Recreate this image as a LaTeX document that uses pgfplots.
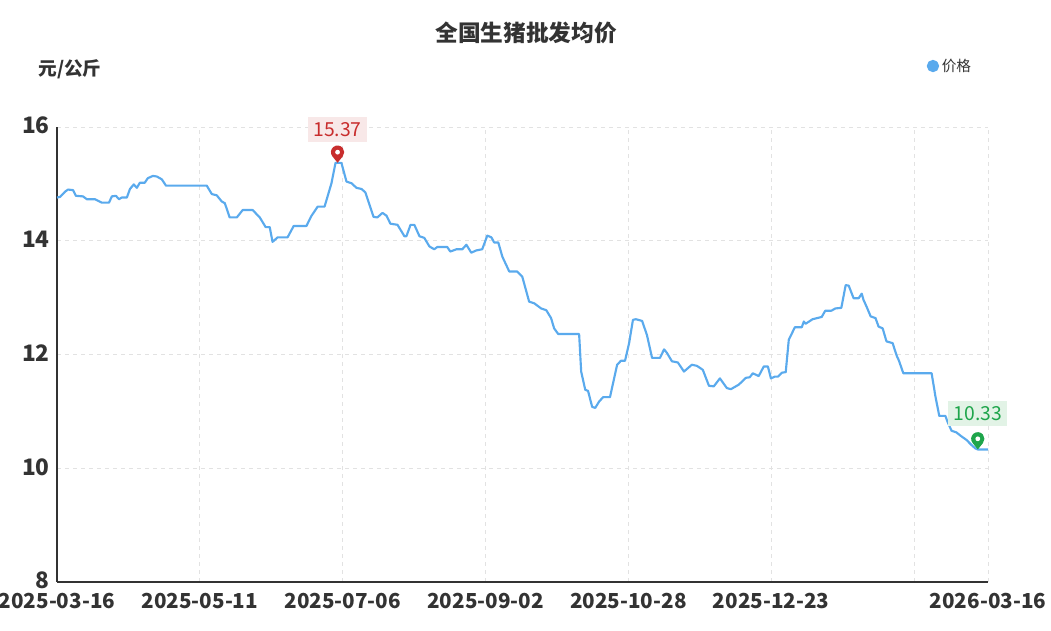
\documentclass[border=0pt]{standalone}
\usepackage{fontspec}
\setmainfont{Noto Sans CJK SC}
\usepackage{pgfplots}
\pgfplotsset{compat=1.18}
\definecolor{lineblue}{RGB}{90,170,237}
\definecolor{txt}{RGB}{51,51,51}
\definecolor{gridc}{RGB}{226,226,226}
\definecolor{pinred}{RGB}{200,45,45}
\definecolor{pinredbg}{RGB}{248,232,232}
\definecolor{pingreen}{RGB}{30,165,75}
\definecolor{pingreenbg}{RGB}{226,243,230}

\pgfdeclareplotmark{pin}{%
  \pgfpathmoveto{\pgfqpoint{0pt}{0pt}}%
  \pgfpathlineto{\pgfpointadd{\pgfqpoint{0pt}{8pt}}{\pgfpointpolar{220}{5pt}}}%
  \pgfpatharc{220}{-40}{5pt}%
  \pgfpathclose
  \pgfusepathqfill
  \pgfsetfillcolor{white}%
  \pgfpathcircle{\pgfqpoint{0pt}{8pt}}{1.8pt}%
  \pgfusepathqfill
}

\begin{document}
\begin{tikzpicture}
\useasboundingbox (-42.75pt,-36.75pt) rectangle (745.5pt,436.5pt);
\begin{axis}[
  at={(0,0)}, anchor=south west,
  scale only axis, width=698.25pt, height=341.25pt,
  xmin=0, xmax=365, ymin=8, ymax=16,
  axis x line=bottom, axis y line=left,
  axis line style={-, draw=txt, line width=1.4pt},
  xtick={0,56,112,168,224,280,336,365},
  xticklabels={2025-03-16,2025-05-11,2025-07-06,2025-09-02,2025-10-28,2025-12-23,,2026-03-16},
  ytick={8,10,12,14,16},
  major tick length=0pt,
  tick style={draw=none},
  grid=major,
  major grid style={draw=gridc, line width=0.6pt, dash pattern=on 3pt off 3pt},
  /pgf/number format/assume math mode=true,
  xticklabel style={font=\bfseries\fontsize{15.5}{16}\selectfont, text=txt, yshift=-5pt},
  yticklabel style={font=\bfseries\fontsize{17}{18}\selectfont, text=txt, xshift=-2pt, yshift=1pt},
  legend style={at={(0.934,1.134)}, anchor=west, draw=none, fill=none,
    font=\fontsize{11}{12}\selectfont, text=txt, inner sep=0pt},
  legend image code/.code={\fill[lineblue] (0pt,0pt) circle (3.8pt);},
  clip=false,
]
\addplot[lineblue, line width=1.6pt, line join=round] coordinates {
(0,14.76)(1.2,14.77)(3.1,14.86)(4.3,14.90)(6.3,14.89)(7.4,14.79)(10.2,14.78)(11.7,14.73)
(14.9,14.73)(17.6,14.67)(20.4,14.67)(21.5,14.78)(23.1,14.79)(24.3,14.73)(25.4,14.76)(27.4,14.76)
(28.6,14.91)(30.1,14.99)(31.3,14.93)(32.5,15.02)(34.4,15.02)(35.6,15.10)(37.6,15.14)(39.1,15.13)
(41.1,15.08)(42.7,14.97)(58.7,14.97)(60.7,14.82)(62.6,14.80)(64.6,14.69)(65.8,14.66)(67.7,14.41)
(70.5,14.41)(72.8,14.54)(76.7,14.54)(79.5,14.41)(81.8,14.24)(83.4,14.24)(84.5,13.98)(86.5,14.06)
(90.4,14.06)(92.8,14.26)(97.8,14.26)(99.8,14.44)(102.2,14.60)(104.9,14.60)(107.6,15.01)(109.2,15.37)
(111.5,15.37)(113.5,15.04)(115.5,15.01)(117.4,14.93)(119.4,14.91)(120.9,14.85)(124.1,14.42)(125.6,14.41)
(127.6,14.49)(129.2,14.44)(130.7,14.30)(133.5,14.28)(136.2,14.08)(137.0,14.08)(138.6,14.28)(140.1,14.28)
(142.1,14.08)(144.0,14.05)(146.0,13.90)(147.9,13.85)(149.1,13.89)(153.0,13.89)(154.2,13.81)(156.6,13.85)
(158.9,13.85)(160.5,13.93)(162.4,13.79)(164.4,13.83)(166.7,13.85)(168.7,14.09)(170.3,14.06)(171.4,13.97)
(173.0,13.97)(174.6,13.72)(177.3,13.46)(180.4,13.46)(182.4,13.37)(185.1,12.93)(187.1,12.90)(189.8,12.81)
(191.8,12.78)(193.7,12.64)(194.9,12.46)(196.5,12.36)(204.7,12.36)(205.5,11.70)(207.1,11.38)(208.2,11.36)
(209.8,11.08)(211.0,11.06)(212.5,11.17)(214.1,11.25)(216.8,11.25)(219.6,11.82)(221.1,11.89)(222.7,11.89)
(224.3,12.20)(225.8,12.61)(227.0,12.62)(229.4,12.59)(231.3,12.34)(233.3,11.94)(236.4,11.94)(238.0,12.09)
(239.1,12.03)(241.1,11.88)(243.4,11.86)(245.8,11.70)(248.9,11.82)(250.9,11.80)(253.2,11.73)(255.6,11.45)
(257.5,11.44)(259.9,11.58)(262.6,11.41)(264.2,11.39)(267.3,11.47)(270.1,11.59)(271.6,11.60)(272.8,11.67)
(275.1,11.62)(277.1,11.79)(278.7,11.79)(279.9,11.58)(281.4,11.61)(282.6,11.61)(284.2,11.68)(285.7,11.69)
(286.9,12.26)(289.3,12.48)(292.0,12.48)(292.8,12.58)(293.5,12.54)(296.2,12.62)(299.8,12.66)(301.2,12.77)
(303.6,12.77)(305.2,12.81)(307.5,12.82)(309.2,13.22)(310.4,13.21)(312.3,12.99)(314.3,12.99)(315.5,13.07)
(316.2,12.96)(317.4,12.84)(319.0,12.67)(320.9,12.64)(322.1,12.49)(323.7,12.46)(325.2,12.23)(327.6,12.20)
(329.2,11.98)(330.1,11.89)(331.8,11.67)(342.9,11.67)(344.4,11.26)(345.9,10.92)(348.3,10.92)(349.1,10.82)
(350.7,10.66)(352.6,10.63)(354.6,10.56)(356.5,10.50)(358.5,10.41)(360.0,10.35)(361.0,10.33)(365,10.33)
};
\addlegendentry{价格}
\addplot[only marks, mark=pin, mark options={fill=pinred, draw=none},
  nodes near coords, point meta=explicit symbolic,
  nodes near coords style={anchor=center, yshift=25pt, fill=pinredbg, text=pinred,
    font=\fontsize{14.5}{15}\selectfont, inner xsep=4pt, inner ysep=4pt}, forget plot]
  coordinates {(110,15.37) [15.37]};
\addplot[only marks, mark=pin, mark options={fill=pingreen, draw=none},
  nodes near coords, point meta=explicit symbolic,
  nodes near coords style={anchor=center, yshift=27pt, fill=pingreenbg, text=pingreen,
    font=\fontsize{14.5}{15}\selectfont, inner xsep=4pt, inner ysep=4pt}, forget plot]
  coordinates {(361,10.33) [10.33]};
\end{axis}
\node[font=\bfseries\fontsize{17}{18}\selectfont, text=txt] at (351.75pt,411.75pt) {全国生猪批发均价};
\node[font=\bfseries\fontsize{14}{15}\selectfont, text=txt] at (9.75pt,384.75pt) {元/公斤};
\end{tikzpicture}
\end{document}
